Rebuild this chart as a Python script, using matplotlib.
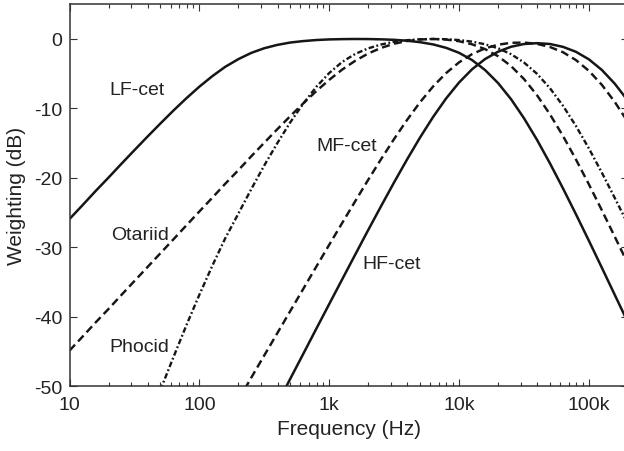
import numpy as np
import matplotlib
matplotlib.use("Agg")
import matplotlib.pyplot as plt
from matplotlib.ticker import FixedLocator, LogLocator, NullFormatter

# frequency grid (Hz), ~10 points per decade
freq_hz = [10, 12.6, 15.8, 20, 25.1, 31.6, 39.8, 50.1, 63.1, 79.4,
           100, 126, 158, 200, 251, 316, 398, 501, 631, 794,
           1000, 1259, 1585, 1995, 2512, 3162, 3981, 5012, 6310, 7943,
           10000, 12589, 15849, 19953, 25119, 31623, 39811, 50119, 63096, 79433,
           100000, 125893, 158489, 200000]

nan = np.nan

# weighting values (dB), one per frequency
lf_cet = [-25.90, -23.91, -21.92, -19.93, -17.96, -16.00, -14.06, -12.16, -10.30, -8.53,
          -6.86, -5.34, -4.01, -2.89, -2.00, -1.33, -0.85, -0.51, -0.30, -0.15,
          -0.06, -0.02, 0.00, -0.01, -0.05, -0.12, -0.25, -0.46, -0.78, -1.27,
          -1.99, -3.03, -4.46, -6.33, -8.65, -11.40, -14.50, -17.89, -21.48, -25.21,
          -29.03, -32.92, -36.85, -40.80]

mf_cet = [nan, nan, nan, nan, nan, nan, nan, nan, nan, nan,
          nan, nan, nan, -51.93, -48.73, -45.53, -42.34, -39.15, -35.96, -32.78,
          -29.61, -26.47, -23.35, -20.27, -17.27, -14.38, -11.63, -9.09, -6.83, -4.91,
          -3.36, -2.18, -1.35, -0.82, -0.55, -0.51, -0.70, -1.15, -1.90, -3.03,
          -4.58, -6.60, -9.08, -11.96]

hf_cet = [nan, nan, nan, nan, nan, nan, nan, nan, nan, nan,
          nan, nan, nan, nan, nan, nan, -52.50, -48.90, -45.31, -41.72,
          -38.14, -34.58, -31.03, -27.50, -24.03, -20.62, -17.32, -14.16, -11.22, -8.56,
          -6.26, -4.36, -2.89, -1.83, -1.12, -0.72, -0.60, -0.72, -1.13, -1.84,
          -2.93, -4.46, -6.45, -8.90]

otariid = [-44.83, -42.83, -40.83, -38.83, -36.83, -34.83, -32.83, -30.83, -28.83, -26.82,
           -24.82, -22.83, -20.84, -18.86, -16.88, -14.93, -12.99, -11.10, -9.27, -7.51,
           -5.88, -4.40, -3.14, -2.09, -1.28, -0.68, -0.29, -0.07, 0.00, -0.08,
           -0.32, -0.76, -1.45, -2.47, -3.89, -5.76, -8.08, -10.84, -13.94, -17.33,
           -20.92, -24.65, -28.48, -32.36]

phocid = [nan, nan, nan, nan, nan, nan, nan, -50.5, -45.8, -41.2,
          -36.8, -32.6, -28.7, -25.1, -21.6, -18.2, -15.0, -12.0, -9.3, -6.9,
          -4.9, -3.3, -2.15, -1.35, -0.79, -0.40, -0.17, -0.04, 0.00, -0.03,
          -0.15, -0.38, -0.76, -1.33, -2.18, -3.38, -5.00, -7.08, -9.60, -12.51,
          -15.75, -19.24, -22.90, -26.67]

xtick_vals = [10, 100, 1000, 10000, 100000]
xtick_labels = ["10", "100", "1k", "10k", "100k"]
ytick_vals = [-50, -40, -30, -20, -10, 0]

plt.rcParams["font.family"] = ["Liberation Sans", "DejaVu Sans"]
plt.rcParams["axes.unicode_minus"] = False
plt.rcParams["lines.scale_dashes"] = False

ink = "#161616"
txt = "#222222"

fig = plt.figure(figsize=(6.24, 4.52), dpi=100)
ax = fig.add_axes([0.1114, 0.1427, 0.895, 0.8457])

ax.plot(freq_hz, lf_cet, color=ink, lw=1.8, solid_capstyle="butt")
ax.plot(freq_hz, hf_cet, color=ink, lw=1.8, solid_capstyle="butt")
ax.plot(freq_hz, mf_cet, color=ink, lw=1.75, dashes=(5.8, 3.2))
ax.plot(freq_hz, otariid, color=ink, lw=1.75, dashes=(5.8, 3.2))
ax.plot(freq_hz, phocid, color=ink, lw=1.7, dashes=(4.0, 1.8, 1.3, 1.8))

ax.set_xscale("log")
ax.set_xlim(10, 200000)
ax.set_ylim(-50, 5)

ax.xaxis.set_major_locator(FixedLocator(xtick_vals))
ax.set_xticklabels(xtick_labels)
ax.xaxis.set_minor_locator(LogLocator(base=10, subs=np.arange(2, 10)))
ax.xaxis.set_minor_formatter(NullFormatter())
ax.set_yticks(ytick_vals)
ax.set_yticklabels([str(v) for v in ytick_vals])

ax.tick_params(which="both", direction="in", top=True, right=True,
               color="#333333", labelcolor=txt, labelsize=14)
ax.tick_params(which="major", length=5, width=0.8)
ax.tick_params(which="minor", length=2.8, width=0.8)
ax.tick_params(axis="x", pad=7)
ax.tick_params(axis="y", pad=5)

for s in ax.spines.values():
    s.set_color("#333333")
    s.set_linewidth(1.1)

ax.set_xlabel("Frequency (Hz)", fontsize=15, color=txt, labelpad=4)
ax.set_ylabel("Weighting (dB)", fontsize=15, color=txt, labelpad=6)

# curve labels
ax.text(20.2, -7.2, "LF-cet", fontsize=14, color=txt, va="center", ha="left")
ax.text(21.1, -28.1, "Otariid", fontsize=14, color=txt, va="center", ha="left")
ax.text(20.3, -44.2, "Phocid", fontsize=14, color=txt, va="center", ha="left")
ax.text(796, -15.3, "MF-cet", fontsize=14, color=txt, va="center", ha="left")
ax.text(1790, -32.3, "HF-cet", fontsize=14, color=txt, va="center", ha="left")

fig.savefig("out.png", dpi=100)
